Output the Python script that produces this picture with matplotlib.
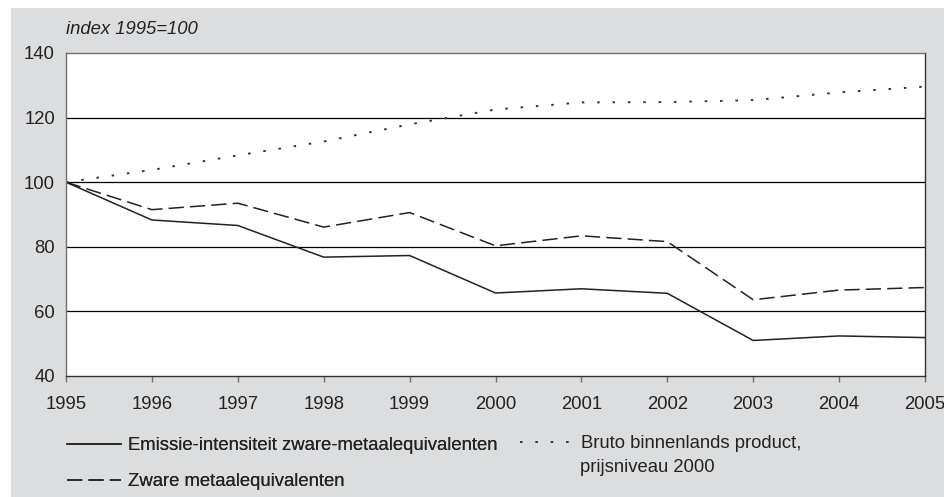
import numpy as np
import matplotlib
matplotlib.use('Agg')
import matplotlib.pyplot as plt
from matplotlib.patches import Rectangle

plt.rcParams['font.family'] = ['Liberation Sans', 'DejaVu Sans']

# data, index 1995=100
years = [1995, 1996, 1997, 1998, 1999, 2000, 2001, 2002, 2003, 2004, 2005]
emissie_intensiteit = [100, 88.3, 86.6, 76.8, 77.3, 65.7, 67.0, 65.6, 51.0, 52.4, 51.9]
zware_metalen = [100, 91.5, 93.5, 86.1, 90.6, 80.3, 83.4, 81.6, 63.6, 66.6, 67.4]
bbp = [100, 103.8, 108.3, 112.6, 117.9, 122.5, 124.7, 124.8, 125.4, 127.8, 129.6]

labels = ['Emissie-intensiteit zware-metaalequivalenten',
          'Zware metaalequivalenten',
          'Bruto binnenlands product,', 'prijsniveau 2000']
yticks = [40, 60, 80, 100, 120, 140]

bg = '#dcdddf'
ink = '#222222'
fs = 13.3

fig = plt.figure(figsize=(9.45, 4.97), dpi=100)
fig.patch.set_facecolor('white')
# grey panel behind the chart
fig.patches.append(Rectangle((11 / 945, 0), 1 - 11 / 945, 1 - 8 / 497,
                             transform=fig.transFigure, facecolor=bg,
                             edgecolor='none', zorder=-10))

ax = fig.add_axes([66 / 945, 1 - 376 / 497, (925 - 66) / 945, (376 - 53) / 497])
ax.set_facecolor('white')

l1, = ax.plot(years, emissie_intensiteit, color=ink, lw=1.1, solid_joinstyle='miter')
l2, = ax.plot(years, zware_metalen, color=ink, lw=1.1, dashes=(10, 4))
l3, = ax.plot(years, bbp, color='#333333', lw=1.4, dashes=(1.3, 6.6))

ax.set_xlim(1995, 2005)
ax.set_ylim(40, 140)
ax.set_xticks(years)
ax.set_yticks(yticks)

for v in [60, 80, 100, 120]:
    ax.axhline(v, color='black', lw=0.9, zorder=1)

for side in ['left', 'top']:
    ax.spines[side].set_color('#707070')
    ax.spines[side].set_linewidth(1.0)
for side in ['right', 'bottom']:
    ax.spines[side].set_color('#333333')
    ax.spines[side].set_linewidth(1.0)

ax.tick_params(axis='x', direction='out', length=4.5, width=1, color='#707070',
               pad=10, labelsize=fs, labelcolor=ink)
ax.tick_params(axis='y', length=0, pad=8, labelsize=fs, labelcolor=ink)

fig.text(66 / 945, 1 - 30 / 497, 'index 1995=100', style='italic', fontsize=fs,
         color=ink, ha='left', va='center')

leg1 = fig.legend(handles=[l1, l2], labels=labels[:2], loc='upper left',
                  bbox_to_anchor=(67 / 945, 1 - 437 / 497), frameon=False,
                  borderaxespad=0, borderpad=0, fontsize=fs, handlelength=2.9,
                  handletextpad=0.4, labelspacing=1.05, labelcolor=ink)
leg2 = fig.legend(handles=[l3], labels=labels[2:3], loc='upper left',
                  bbox_to_anchor=(520 / 945, 1 - 435 / 497), frameon=False,
                  borderaxespad=0, borderpad=0, fontsize=fs, handlelength=2.75,
                  handletextpad=0.55, labelcolor=ink)
fig.add_artist(leg1)
fig.text(580 / 945, 1 - 468 / 497, labels[3], fontsize=fs, color=ink,
         ha='left', va='center')

fig.savefig('out.png', dpi=100, facecolor=fig.get_facecolor())
